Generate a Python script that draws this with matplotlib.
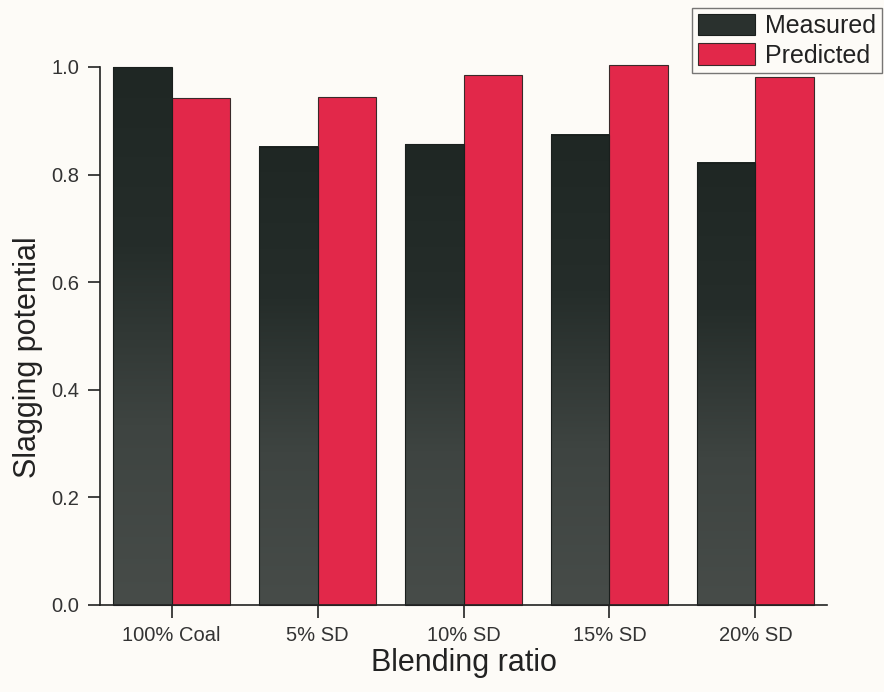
import matplotlib
matplotlib.use("Agg")
import matplotlib.pyplot as plt
from matplotlib.colors import LinearSegmentedColormap
import numpy as np

plt.rcParams['font.family'] = ['Liberation Sans', 'DejaVu Sans']

categories = ["100% Coal", "5% SD", "10% SD", "15% SD", "20% SD"]
measured = [1.000, 0.852, 0.856, 0.874, 0.822]
predicted = [0.942, 0.945, 0.986, 1.004, 0.981]
yticks = [0.0, 0.2, 0.4, 0.6, 0.8, 1.0]

bg = "#fdfbf7"
fig = plt.figure(figsize=(8.84, 6.92), dpi=100, facecolor=bg)
ax = fig.add_axes([100 / 884, 1 - 605 / 692, 727 / 884, 538 / 692], facecolor=bg)

x = np.arange(len(categories))
w = 0.4
b1 = ax.bar(x - w / 2, measured, width=w, color="#2a312e", edgecolor="#1a1f1d",
            linewidth=0.8, label="Measured", clip_on=False, zorder=2)
b2 = ax.bar(x + w / 2, predicted, width=w, color="#e2284a", edgecolor="#3a2a2a",
            linewidth=0.8, label="Predicted", clip_on=False, zorder=2)

# shaded fill for the measured bars: dark at the top, lighter grey towards the base
shade = LinearSegmentedColormap.from_list(
    "shade", ["#474c49", "#3e4441", "#252d2a", "#1f2724"], N=256)
grad = np.linspace(0, 1, 256).reshape(-1, 1)
for rect in b1:
    x0, h = rect.get_x(), rect.get_height()
    ax.imshow(grad, extent=[x0, x0 + rect.get_width(), 0, h], origin="lower",
              aspect="auto", cmap=shade, zorder=2.1, interpolation="bilinear",
              clip_on=False)
    rect.set_facecolor("none")
    rect.set_zorder(2.2)

ax.set_xlim(-0.49, 4.49)
ax.set_ylim(0, 1.0)
ax.set_aspect("auto")
ax.set_xticks(x)
ax.set_xticklabels(categories)
ax.set_yticks(yticks)
ax.set_yticklabels([f"{t:.1f}" for t in yticks])

for s in ["top", "right"]:
    ax.spines[s].set_visible(False)
for s in ["left", "bottom"]:
    ax.spines[s].set_linewidth(1.2)
    ax.spines[s].set_color("#222222")
    ax.spines[s].set_zorder(3)

ax.tick_params(axis="both", direction="out", length=9, width=1.2, color="#222222",
               labelsize=14.5, labelcolor="#333333", pad=6)

ax.set_xlabel("Blending ratio", fontsize=22, color="#222222", labelpad=2)
ax.set_ylabel("Slagging potential", fontsize=22, color="#222222")
ax.yaxis.set_label_coords(-0.078, 0.46)

leg = fig.legend(handles=[b2, b2], labels=["Measured", "Predicted"],
                 loc="upper left", bbox_to_anchor=(692 / 884, 1 - 8 / 692),
                 fontsize=18, frameon=True, fancybox=False, edgecolor="#555555",
                 facecolor=bg, handlelength=2.3, handleheight=0.95,
                 handletextpad=0.4, labelspacing=0.22, borderpad=0.22,
                 borderaxespad=0.0)
# first legend key shows the measured bar colour
leg.legend_handles[0].set_facecolor("#2a312e")
leg.legend_handles[0].set_edgecolor("#1a1f1d")
leg.get_frame().set_linewidth(1.0)
for t in leg.get_texts():
    t.set_color("#222222")

fig.savefig("out.png", dpi=100, facecolor=bg)
